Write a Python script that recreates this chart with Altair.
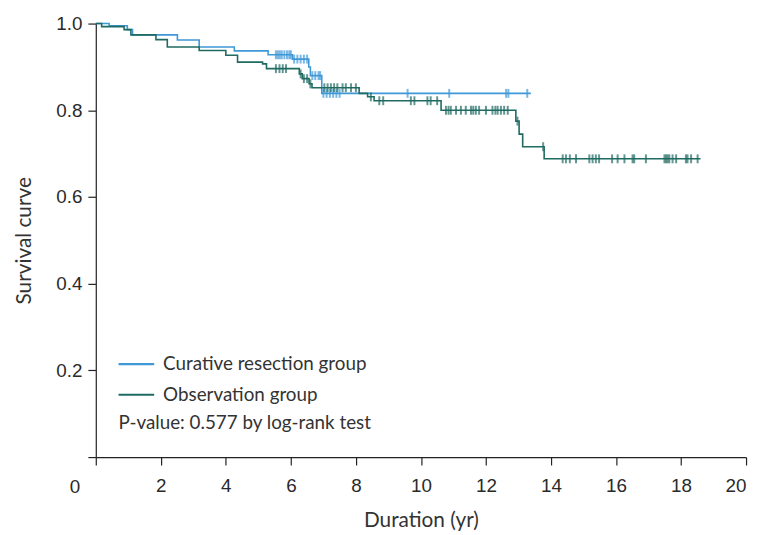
import altair as alt
import pandas as pd

# ---- data ----
# Curative resection group: step times and survival after each step
cur_t = [0.0, 0.41, 0.97, 1.13, 2.51, 3.18, 4.26, 5.30, 6.05, 6.55, 6.60, 6.95]
cur_s = [1.0, 0.995, 0.986, 0.974, 0.962, 0.946, 0.937, 0.928, 0.918, 0.900, 0.880, 0.839]
cur_end = 13.38
cur_cens = [5.54, 5.60, 5.66, 5.72, 5.80, 5.88, 5.95, 6.00, 6.10, 6.20, 6.30, 6.40, 6.50,
            6.66, 6.75, 6.85, 6.90, 7.00, 7.10, 7.20, 7.30, 7.40, 7.50,
            9.59, 10.87, 12.62, 12.69, 13.27]

# Observation group
obs_t = [0.0, 0.18, 0.87, 1.08, 1.85, 2.20, 3.18, 4.00, 4.36, 5.13, 5.25, 6.26, 6.35,
         6.56, 6.65, 8.10, 8.36, 8.56, 10.62, 12.92, 13.02, 13.13, 13.79]
obs_s = [1.0, 0.993, 0.986, 0.974, 0.963, 0.946, 0.938, 0.927, 0.911, 0.907, 0.896, 0.884, 0.873,
         0.861, 0.852, 0.839, 0.831, 0.822, 0.800, 0.775, 0.745, 0.716, 0.688]
obs_end = 18.60
obs_cens = [5.54, 5.65, 5.75, 5.85, 6.30, 6.40, 6.50, 6.60,
            7.03, 7.13, 7.23, 7.33, 7.43, 7.59, 7.69, 7.85, 8.00,
            8.46, 8.72, 8.84, 9.69, 9.80, 10.20, 10.30, 10.50,
            10.77, 10.85, 10.92, 11.08, 11.23, 11.38, 11.54, 11.61, 11.69, 11.79,
            12.00, 12.20, 12.29, 12.36, 12.46, 12.56, 12.67, 12.97, 13.76,
            14.36, 14.46, 14.58, 14.77, 15.18, 15.28, 15.38, 15.48, 15.88, 16.05,
            16.26, 16.51, 16.56, 16.92, 17.49, 17.54, 17.59, 17.64, 17.74, 17.85,
            18.15, 18.20, 18.31, 18.51]

groups = ["Curative resection group", "Observation group"]
colors = ["#3f98d8", "#1f6b62"]
x_ticks = [0, 2, 4, 6, 8, 10, 12, 14, 16, 18, 20]
y_ticks = [0, 0.2, 0.4, 0.6, 0.8, 1.0]
pvalue_text = "P-value: 0.577 by log-rank test"


def surv_at(ts, ss, t):
    val = ss[0]
    for ti, si in zip(ts, ss):
        if ti <= t:
            val = si
    return val


rows, cens_rows = [], []
for g, ts, ss, end, cens in [(groups[0], cur_t, cur_s, cur_end, cur_cens),
                             (groups[1], obs_t, obs_s, obs_end, obs_cens)]:
    for i, (t, s) in enumerate(zip(ts, ss)):
        rows.append({"group": g, "t": t, "s": s, "o": i})
    rows.append({"group": g, "t": end, "s": ss[-1], "o": len(ts)})
    for c in cens:
        cens_rows.append({"group": g, "t": c, "s": surv_at(ts, ss, c)})

df = pd.DataFrame(rows)
dc = pd.DataFrame(cens_rows)

W, H = 657, 438
LABEL_FONT = "Liberation Sans"
TEXT_FONT = "Lato"
LBL_SIZE = 19

xscale = alt.Scale(domain=[0, 20], nice=False, zero=False, padding=0)
yscale = alt.Scale(domain=[0, 1], nice=False, padding=0)
cscale = alt.Scale(domain=groups, range=colors)

axis_common = dict(
    grid=False, domainColor="#222222", domainWidth=1.2,
    tickColor="#222222", tickWidth=1.2, tickSize=8,
    labelFont=LABEL_FONT, labelFontSize=LBL_SIZE, labelColor="#2a2a2a",
    titleFont=TEXT_FONT, titleFontSize=21, titleFontWeight="normal", titleColor="#333333",
)

lines = alt.Chart(df).mark_line(interpolate="step-after", strokeWidth=1.6).encode(
    x=alt.X("t:Q", scale=xscale,
            axis=alt.Axis(values=x_ticks, title="Duration (yr)", labelPadding=12,
                          titlePadding=14,
                          labelExpr="datum.value == 0 ? '' : datum.label", **axis_common)),
    y=alt.Y("s:Q", scale=yscale,
            axis=alt.Axis(values=y_ticks, title="Survival curve", format=".1f",
                          labelPadding=6, titlePadding=22,
                          labelExpr="datum.value == 0 ? '' : datum.label", **axis_common)),
    color=alt.Color("group:N", scale=cscale, legend=None),
    order="o:Q",
    detail="group:N",
)

ticks = alt.Chart(dc).mark_tick(orient="vertical", size=9, thickness=2).encode(
    x=alt.X("t:Q", scale=xscale),
    y=alt.Y("s:Q", scale=yscale),
    color=alt.Color("group:N", scale=cscale, legend=None),
)

zero_lbl = alt.Chart(pd.DataFrame({"v": [0]})).mark_text(
    font=LABEL_FONT, fontSize=LBL_SIZE, color="#2a2a2a", dx=-21, baseline="middle", align="center"
).encode(x=alt.X("v:Q", scale=xscale), y=alt.value(H + 30), text=alt.Text("v:Q"))

leg_layers = []
for g, c, yy in zip(groups, colors, [344, 375]):
    leg_layers.append(alt.Chart(pd.DataFrame({"g": [g]})).mark_rule(
        strokeWidth=2.2, color=c
    ).encode(x=alt.value(23), x2=alt.value(59), y=alt.value(yy)))
    leg_layers.append(alt.Chart(pd.DataFrame({"g": [g]})).mark_text(
        font=TEXT_FONT, fontSize=19, color="#333333", align="left", baseline="middle"
    ).encode(x=alt.value(68), y=alt.value(yy), text="g:N"))

p_text = alt.Chart(pd.DataFrame({"txt": [pvalue_text]})).mark_text(
    font=TEXT_FONT, fontSize=19, color="#333333", align="left", baseline="middle"
).encode(x=alt.value(23), y=alt.value(404), text="txt:N")

chart = alt.layer(lines, ticks, zero_lbl, *leg_layers, p_text).properties(
    width=W, height=H,
    autosize=alt.AutoSizeParams(type="none"),
    padding={"left": 88.7, "top": 13, "right": 5, "bottom": 76},
).configure_view(stroke=None)

chart.save("out.html", embed_options={"renderer": "svg", "actions": False})
